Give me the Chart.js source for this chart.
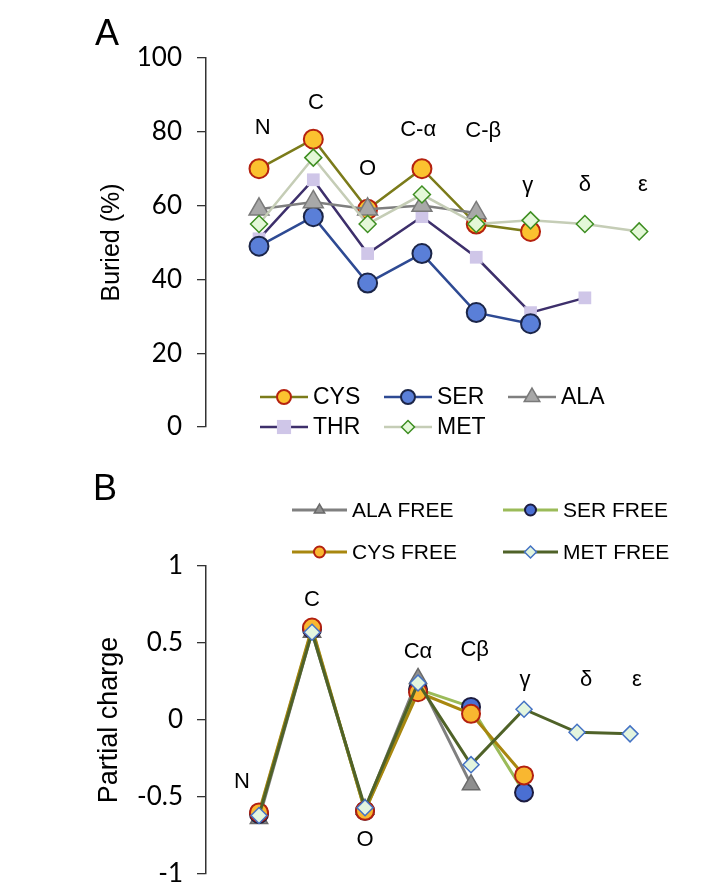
<!DOCTYPE html>
<html>
<head>
<meta charset="utf-8">
<script src="https://cdn.jsdelivr.net/npm/chart.js@4.4.0/dist/chart.umd.min.js"></script>
<style>
  html, body { margin: 0; padding: 0; background: #fff; }
  #wrap { position: relative; width: 721px; height: 888px; }
  canvas { position: absolute; left: 0; }
  #chartA { top: 0; }
  #chartB { top: 444px; }
</style>
</head>
<body>
<div id="wrap">
  <canvas id="chartA" width="721" height="444"></canvas>
  <canvas id="chartB" width="721" height="444"></canvas>
</div>
<script>
// --- data: panel A (buried %) ---
const atomsA = ['N', 'C', 'O', 'C-α', 'C-β', 'γ', 'δ', 'ε'];
const buriedTicks = [0, 20, 40, 60, 80, 100];
const cysBuried = [70, 78, 59, 70, 55, 53, null, null];
const serBuried = [49, 57, 39, 47, 31, 28, null, null];
const alaBuried = [59, 61, 59, 60, 58, null, null, null];
const thrBuried = [51, 67, 47, 57, 46, 31, 35, null];
const metBuried = [55, 73, 55, 63, 55, 56, 55, 53];

// --- data: panel B (partial charge) ---
const atomsB = ['N', 'C', 'O', 'Cα', 'Cβ', 'γ', 'δ', 'ε'];
const chargeTicks = [-1, -0.5, 0, 0.5, 1];
const alaFree = [-0.64, 0.57, -0.58, 0.27, -0.42, null, null, null];
const serFree = [-0.61, 0.59, -0.59, 0.20, 0.085, -0.47, null, null];
const cysFree = [-0.60, 0.60, -0.59, 0.18, 0.04, -0.36, null, null];
const metFree = [-0.62, 0.57, -0.57, 0.24, -0.29, 0.07, -0.08, -0.09];

const toPoints = arr => arr.map((v, i) => ({ x: i, y: v }));

// marker for the hand-drawn legends
function drawMarker(ctx, style, x, y, r, fill, stroke, bw) {
    ctx.save();
    ctx.beginPath();
    if (style === 'circle') {
        ctx.arc(x, y, r, 0, Math.PI * 2);
    } else if (style === 'triangle') {
        for (let k = 0; k < 3; k++) {
            const a = k * 2 * Math.PI / 3;
            const px = x + Math.sin(a) * r, py = y - Math.cos(a) * r;
            if (k) ctx.lineTo(px, py); else ctx.moveTo(px, py);
        }
        ctx.closePath();
    } else if (style === 'rect') {
        const s = r * Math.SQRT1_2;
        ctx.rect(x - s, y - s, 2 * s, 2 * s);
    } else if (style === 'rectRot') {
        ctx.moveTo(x - r, y); ctx.lineTo(x, y - r);
        ctx.lineTo(x + r, y); ctx.lineTo(x, y + r);
        ctx.closePath();
    }
    ctx.fillStyle = fill;
    ctx.fill();
    if (bw > 0) { ctx.lineWidth = bw; ctx.strokeStyle = stroke; ctx.stroke(); }
    ctx.restore();
}

// atom names, panel letter and legend
const decorPlugin = {
    id: 'decor',
    afterDatasetsDraw(chart, args, opts) {
        const ctx = chart.ctx;
        const xs = chart.scales.x, ys = chart.scales.y;
        ctx.save();
        ctx.fillStyle = '#000';
        ctx.textAlign = 'center';
        ctx.textBaseline = 'middle';

        // atom names
        ctx.font = '22px "Liberation Sans", Arial, sans-serif';
        opts.atoms.forEach((name, i) => {
            const x = xs.getPixelForValue(i + opts.labelDx[i]);
            const y = ys.getPixelForValue(opts.labelY[i]);
            ctx.fillText(name, x, y);
        });

        // panel letter
        ctx.font = '36px "Liberation Sans", Arial, sans-serif';
        ctx.fillText(opts.letter, opts.letterX, opts.letterY);

        // legend
        const lg = opts.legend;
        ctx.font = lg.font;
        ctx.textAlign = 'left';
        lg.order.forEach((di, k) => {
            const ds = chart.data.datasets[di];
            const col = k % lg.cols, row = Math.floor(k / lg.cols);
            const x0 = lg.x0 + col * lg.colW;
            const y0 = lg.y0 + row * lg.rowH;
            ctx.beginPath();
            ctx.moveTo(x0, y0);
            ctx.lineTo(x0 + lg.lineLen, y0);
            ctx.lineWidth = ds.borderWidth;
            ctx.strokeStyle = ds.borderColor;
            ctx.stroke();
            drawMarker(ctx, ds.pointStyle, x0 + lg.lineLen / 2, y0, ds.legendRadius,
                ds.pointBackgroundColor, ds.pointBorderColor, ds.pointBorderWidth);
            ctx.fillStyle = '#000';
            ctx.fillText(ds.label, x0 + lg.lineLen + lg.textGap, y0 + 1);
        });
        ctx.restore();
    }
};

function yAxis(min, max, ticks, title, titleSize, titlePad, labelPad) {
    return {
        type: 'linear',
        min: min, max: max,
        afterBuildTicks: s => { s.ticks = ticks.map(v => ({ value: v })); },
        afterFit: s => {
            s.width = 206;
            // let layout padding alone decide the plot's top and bottom
            s.paddingTop = 0;
            s.paddingBottom = 0;
        },
        ticks: {
            color: '#000',
            padding: labelPad,
            font: { family: 'Lato', size: 26 },
            callback: v => String(v)
        },
        grid: { drawOnChartArea: false, drawTicks: true, tickLength: 9, color: '#333', lineWidth: 1.3 },
        border: { display: true, color: '#333', width: 1.5 },
        title: {
            display: true, text: title, color: '#000',
            font: { family: '"Liberation Sans", Arial, sans-serif', size: titleSize },
            padding: { top: titlePad, bottom: 0 }
        }
    };
}

// --- Panel A ---
new Chart(document.getElementById('chartA'), {
    type: 'line',
    data: {
        datasets: [
            {
                label: 'CYS', data: toPoints(cysBuried), order: 4,
                borderColor: '#7B7B1A', borderWidth: 2.5,
                pointStyle: 'circle', pointRadius: 9.5, legendRadius: 7,
                pointBackgroundColor: '#FBC22F', pointBorderColor: '#B5220F', pointBorderWidth: 2
            },
            {
                label: 'SER', data: toPoints(serBuried), order: 3,
                borderColor: '#2E4A93', borderWidth: 2.5,
                pointStyle: 'circle', pointRadius: 9.5, legendRadius: 7,
                pointBackgroundColor: '#5A7FD8', pointBorderColor: '#1B2548', pointBorderWidth: 2
            },
            {
                label: 'ALA', data: toPoints(alaBuried), order: 2,
                borderColor: '#7F7F7F', borderWidth: 2.5,
                pointStyle: 'triangle', pointRadius: 11.5, legendRadius: 9,
                pointBackgroundColor: '#A8A8A8', pointBorderColor: '#7A7A7A', pointBorderWidth: 1.5
            },
            {
                label: 'THR', data: toPoints(thrBuried), order: 5,
                borderColor: '#3D2F6B', borderWidth: 2.5,
                pointStyle: 'rect', pointRadius: 9, legendRadius: 10,
                pointBackgroundColor: '#CFC6E8', pointBorderColor: '#CFC6E8', pointBorderWidth: 0
            },
            {
                label: 'MET', data: toPoints(metBuried), order: 1,
                borderColor: '#C5CDB6', borderWidth: 2.5,
                pointStyle: 'rectRot', pointRadius: 8.5, legendRadius: 6.5,
                pointBackgroundColor: '#E4F8D8', pointBorderColor: '#3E8E22', pointBorderWidth: 1.5
            }
        ]
    },
    options: {
        responsive: false,
        animation: false,
        layout: { padding: { top: 58, bottom: 17, left: 0, right: 21 } },
        scales: {
            x: { type: 'linear', display: false, min: -0.976, max: 8.12 },
            y: yAxis(0, 100, buriedTicks, 'Buried (%)', 25, 97, 15)
        },
        plugins: {
            legend: { display: false },
            tooltip: { enabled: false },
            decor: {
                atoms: atomsA,
                labelY: [81, 87.8, 70, 80.5, 80.2, 65.3, 65.5, 65.5],
                labelDx: [0.07, 0.05, 0, -0.07, 0.13, -0.05, 0, 0.07],
                letter: 'A', letterX: 107, letterY: 35,
                legend: {
                    order: [0, 1, 2, 3, 4], cols: 3,
                    x0: 260, y0: 397, colW: 124, rowH: 30,
                    lineLen: 48, textGap: 5,
                    font: '23px "Liberation Sans", Arial, sans-serif'
                }
            }
        }
    },
    plugins: [decorPlugin]
});

// --- Panel B ---
new Chart(document.getElementById('chartB'), {
    type: 'line',
    data: {
        datasets: [
            {
                label: 'ALA FREE', data: toPoints(alaFree), order: 4,
                borderColor: '#808080', borderWidth: 3,
                pointStyle: 'triangle', pointRadius: 10, legendRadius: 6,
                pointBackgroundColor: '#8F8F8F', pointBorderColor: '#6A6A6A', pointBorderWidth: 1.5
            },
            {
                label: 'SER FREE', data: toPoints(serFree), order: 3,
                borderColor: '#9BBB59', borderWidth: 3,
                pointStyle: 'circle', pointRadius: 9, legendRadius: 5.5,
                pointBackgroundColor: '#4A6FD3', pointBorderColor: '#1C1C40', pointBorderWidth: 2
            },
            {
                label: 'CYS FREE', data: toPoints(cysFree), order: 2,
                borderColor: '#A8870F', borderWidth: 3,
                pointStyle: 'circle', pointRadius: 9, legendRadius: 5.5,
                pointBackgroundColor: '#F9B730', pointBorderColor: '#B3200F', pointBorderWidth: 2
            },
            {
                label: 'MET FREE', data: toPoints(metFree), order: 1,
                borderColor: '#4F6228', borderWidth: 3,
                pointStyle: 'rectRot', pointRadius: 8, legendRadius: 6,
                pointBackgroundColor: '#E3F5DF', pointBorderColor: '#4472C4', pointBorderWidth: 1.5
            }
        ]
    },
    options: {
        responsive: false,
        animation: false,
        layout: { padding: { top: 122, bottom: 14, left: 0, right: 21 } },
        scales: {
            x: { type: 'linear', display: false, min: -1.0, max: 8.32 },
            y: yAxis(-1, 1, chargeTicks, 'Partial charge', 27, 93, 14)
        },
        plugins: {
            legend: { display: false },
            tooltip: { enabled: false },
            decor: {
                atoms: atomsB,
                labelY: [-0.40, 0.78, -0.78, 0.44, 0.455, 0.26, 0.26, 0.26],
                labelDx: [-0.32, 0, 0, 0, 0.07, 0.02, 0.17, 0.13],
                letter: 'B', letterX: 105, letterY: 46,
                legend: {
                    order: [0, 1, 2, 3], cols: 2,
                    x0: 292, y0: 66, colW: 211, rowH: 42,
                    lineLen: 55, textGap: 5,
                    font: '21px "Liberation Sans", Arial, sans-serif'
                }
            }
        }
    },
    plugins: [decorPlugin]
});
</script>
</body>
</html>
